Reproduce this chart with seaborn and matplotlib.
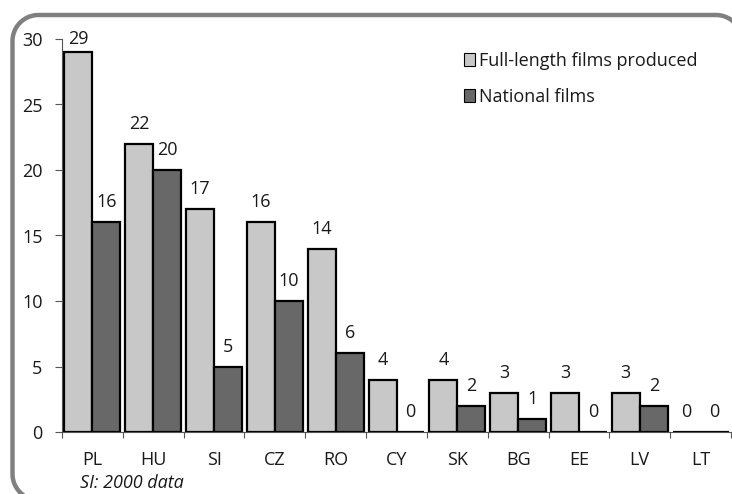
import matplotlib
matplotlib.use("Agg")
import matplotlib.pyplot as plt
from matplotlib.lines import Line2D
import numpy as np
import seaborn as sns
import pandas as pd

countries = ["PL", "HU", "SI", "CZ", "RO", "CY", "SK", "BG", "EE", "LV", "LT"]
full_length = [29, 22, 17, 16, 14, 4, 4, 3, 3, 3, 0]
national = [16, 20, 5, 10, 6, 0, 2, 1, 0, 2, 0]
series_names = ["Full-length films produced", "National films"]
y_ticks = [0, 5, 10, 15, 20, 25, 30]
note = "SI: 2000 data"

df = pd.DataFrame({
    "country": countries * 2,
    "value": full_length + national,
    "series": [series_names[0]] * len(countries) + [series_names[1]] * len(countries),
})

sns.set_style("white")
plt.rcParams["font.family"] = ["Open Sans", "DejaVu Sans"]
FS = 13
plt.rcParams["font.size"] = FS
TXT = "#1a1a1a"

W, H = 732, 494
fig = plt.figure(figsize=(W / 100, H / 100), dpi=100)
ax = fig.add_axes([62 / W, (H - 432) / H, (731 - 62) / W, (432 - 39) / H])

colors = ["#c8c8c8", "#686868"]
sns.barplot(data=df, x="country", y="value", hue="series", palette=colors,
            edgecolor="black", linewidth=1.6, width=0.92, ax=ax,
            saturation=1, legend=True)

ax.set_ylim(0, 30)
ax.set_xlim(-0.5, len(countries) - 0.5)
ax.set_yticks(y_ticks)
ax.set_yticklabels([str(t) for t in y_ticks], fontsize=FS, color=TXT)
ax.set_xlabel("")
ax.set_ylabel("")
ax.set_xticks(range(len(countries)))
ax.set_xticklabels(countries, fontsize=FS, color=TXT)
ax.tick_params(axis="x", length=0, pad=14)
ax.tick_params(axis="y", length=5, width=0.8, color="#555555", pad=9, left=True, direction="out")
ax.set_xticks([i - 0.5 for i in range(len(countries) + 1)], minor=True)
ax.tick_params(axis="x", which="minor", length=4, width=0.8, color="#555555", bottom=True, direction="out")

for s in ["top", "right"]:
    ax.spines[s].set_visible(False)
ax.spines["left"].set_color("#555555")
ax.spines["left"].set_linewidth(0.8)
ax.spines["bottom"].set_color("#555555")
ax.spines["bottom"].set_linewidth(0.8)

# value labels
px_per_unit = (432 - 39) / 30
off = 20 / px_per_unit
bw = 0.46
for i in range(len(countries)):
    for j, vals in enumerate([full_length, national]):
        v = vals[i]
        x = i - bw / 2 if j == 0 else i + bw / 2
        y = min(v + off, 30)
        ax.text(x, y, str(v), ha="center", va="center", fontsize=FS, color=TXT)

leg = ax.legend(loc="upper left", bbox_to_anchor=((460 - 62) / (731 - 62) - 0.01, 0.995),
                frameon=False, fontsize=FS, handlelength=0.6, handleheight=0.75,
                handletextpad=0.25, labelspacing=1.0, borderaxespad=0.2)
for t in leg.get_texts():
    t.set_color(TXT)
for h in leg.legend_handles:
    h.set_linewidth(0.8)

fig.text(80 / W, 1 - 483 / H, note, fontsize=FS, style="italic", color=TXT,
         ha="left", va="center")

# rounded frame (pixel coords, y from top), right/bottom edges beyond the image
x0, y_top, x1, y_bot, r = 12.5, 15, 742, 500, 26
t = np.linspace(0, np.pi / 2, 30)
px, py = [x0], [y_bot - r]
# bottom-left corner
px += list(x0 + r - r * np.cos(t)); py += list(y_bot - r + r * np.sin(t))
px, py = px[1:], py[1:]
px = px[::-1]; py = py[::-1]
# left edge up to top-left corner
px += list(x0 + r - r * np.cos(t)); py += list(y_top + r - r * np.sin(t))
# top-right corner
px += list(x1 - r + r * np.sin(t)); py += list(y_top + r - r * np.cos(t))
px += [x1]; py += [y_bot]
fx = np.array(px) / W
fy = 1 - np.array(py) / H
fig.add_artist(Line2D(fx, fy, transform=fig.transFigure, color="#808080",
                      linewidth=3.2, solid_joinstyle="round", clip_on=False))

fig.savefig("out.png", dpi=100)
